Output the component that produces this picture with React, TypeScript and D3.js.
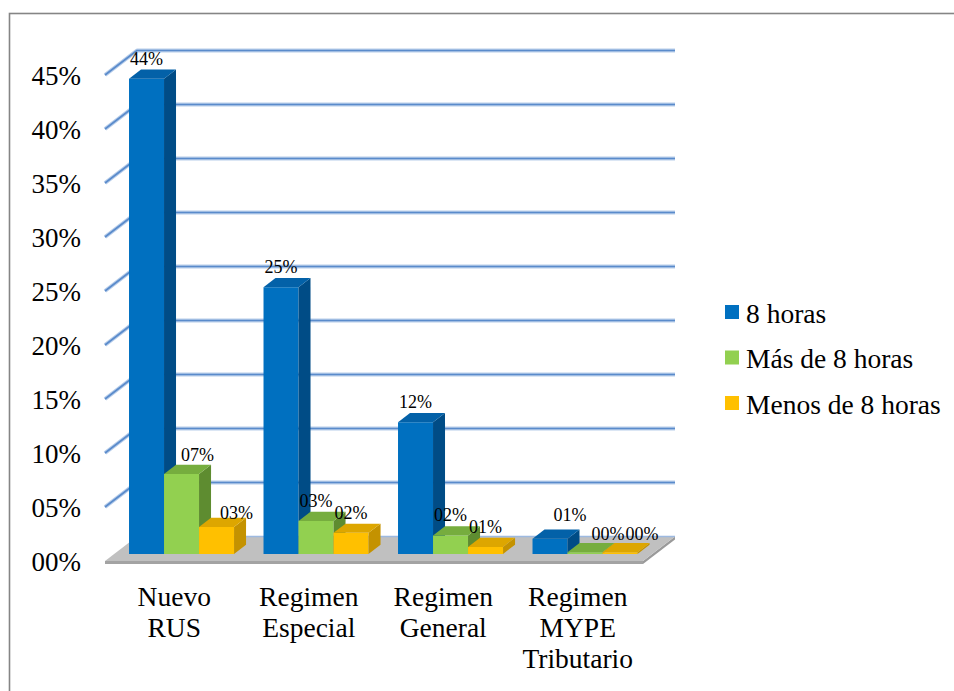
import React from "react";
import * as d3 from "d3";

const categories = ["Nuevo\nRUS", "Regimen\nEspecial", "Regimen\nGeneral", "Regimen\nMYPE\nTributario"];
const seriesNames = ["8 horas", "Más de 8 horas", "Menos de 8 horas"];
const values8 = [44, 24.7, 12.2, 1.4];
const valuesMas = [7.4, 3.05, 1.7, 0.15];
const valuesMenos = [2.5, 1.95, 0.65, 0.15];
const yTicks = [0, 5, 10, 15, 20, 25, 30, 35, 40, 45];

const seriesValues = [values8, valuesMas, valuesMenos];

// styling
const FONT = '"Liberation Serif", "Times New Roman", Times, serif';
const FRONT = ["#0070C0", "#92D050", "#FFC000"];
const SIDE = ["#004C86", "#5E8C30", "#C49200"];
const TOP = ["#0361A8", "#76AD3E", "#DDA600"];
const DX = 32;
const DY = 24.5;
const ZF = 0.29;
const ZB = 0.665;
// Excel's label placement nudges (layout only), index = cat*3 + series
const LABEL_NUDGE: Record<number, [number, number]> = {
  1: [16, 1],
  2: [20, 6],
  9: [20, -4],
  10: [23, 2],
  11: [22, 2],
};

const W = 954;
const H = 691;

export default function App() {
  const x0 = d3.scaleBand<string>().domain(categories).range([105, 643]).paddingInner(0).paddingOuter(0);
  const x1 = d3.scaleBand<string>().domain(seriesNames).range([0, x0.bandwidth()]).paddingInner(0).paddingOuter(0.421);
  const y = d3.scaleLinear().domain([0, 45]).range([561, 75]);
  const P = (x: number, v: number, z: number): [number, number] => [x + z * DX, y(v) - z * DY];
  const pts = (arr: [number, number][]) => arr.map((p) => p.join(",")).join(" ");
  const fmt = (v: number) => d3.format("02d")(Math.round(v)) + "%";
  const ts = { fontFamily: FONT };

  const xL = x0.range()[0];
  const xR = x0.range()[1];

  const grid = yTicks.filter((t) => t > 0);

  const floorTop = pts([P(xL, 0, 0), P(xR, 0, 0), P(xR, 0, 1), P(xL, 0, 1)]);
  const [fl0x, fl0y] = P(xL, 0, 0);
  const [fr0x, fr0y] = P(xR, 0, 0);
  const [fr1x, fr1y] = P(xR, 0, 1);
  const slab = 3;

  const bars: React.ReactNode[] = [];
  const labels: React.ReactNode[] = [];
  categories.forEach((cat, i) => {
    seriesNames.forEach((s, j) => {
      const v = seriesValues[j][i];
      const xa = (x0(cat) as number) + (x1(s) as number);
      const xb = xa + x1.bandwidth();
      const front = pts([P(xa, 0, ZF), P(xb, 0, ZF), P(xb, v, ZF), P(xa, v, ZF)]);
      const side = pts([P(xb, 0, ZF), P(xb, 0, ZB), P(xb, v, ZB), P(xb, v, ZF)]);
      const top = pts([P(xa, v, ZF), P(xb, v, ZF), P(xb, v, ZB), P(xa, v, ZB)]);
      bars.push(
        <g key={`b${i}-${j}`}>
          <polygon points={front} fill={FRONT[j]} />
          <polygon points={side} fill={SIDE[j]} />
          <polygon points={top} fill={TOP[j]} />
        </g>
      );
      const nudge = LABEL_NUDGE[i * 3 + j] || [0, 0];
      const cx = P((xa + xb) / 2, v, ZF)[0] + nudge[0];
      const by = P(xa, v, ZB)[1] - 5 + nudge[1];
      labels.push(
        <text key={`l${i}-${j}`} x={cx} y={by} textAnchor="middle" fontSize={18} fill="#000" style={ts}>
          {fmt(v)}
        </text>
      );
    });
  });

  return (
    <svg width={W} height={H} style={{ position: "absolute", left: 0, top: 0, background: "#fff", fontFamily: FONT }}>
      <rect x={9.5} y={13.5} width={W + 10} height={H + 10} fill="#fff" stroke="#858585" strokeWidth={1.6} />

      {/* gridlines */}
      {grid.map((t) => {
        const [ax, ay] = P(xL, t, 0);
        const [bx, by] = P(xL, t, 1);
        const [cx, cy] = P(xR, t, 1);
        const d = `M${ax},${ay}L${bx},${by}L${cx},${cy}`;
        return (
          <g key={`g${t}`}>
            <path d={d} fill="none" stroke="#B7CDEA" strokeWidth={4} strokeLinejoin="round" />
            <path d={d} fill="none" stroke="#5A8BCB" strokeWidth={1.6} strokeLinejoin="round" />
          </g>
        );
      })}

      {/* floor */}
      <polygon points={pts([[fl0x, fl0y], [fr0x, fr0y], [fr0x, fr0y + slab], [fl0x, fl0y + slab]])} fill="#A3A3A3" />
      <polygon points={pts([[fr0x, fr0y], [fr1x, fr1y], [fr1x, fr1y + slab], [fr0x, fr0y + slab]])} fill="#9A9A9A" />
      <polygon points={floorTop} fill="#C0C0C0" />
      <path d={`M${P(xL, 0, 1).join(",")}L${P(xR, 0, 1).join(",")}`} stroke="#9DB9E0" strokeWidth={1.5} />

      {bars}
      {labels}

      {/* y axis labels */}
      {yTicks.map((t) => (
        <text key={`y${t}`} x={81} y={y(t) + 1} textAnchor="end" dominantBaseline="central" fontSize={27} fill="#000" style={ts}>
          {fmt(t)}
        </text>
      ))}

      {/* category labels */}
      {categories.map((c) => {
        const cx = (x0(c) as number) + x0.bandwidth() / 2 + 2;
        return (
          <text key={`c${c}`} textAnchor="middle" fontSize={27.5} fill="#000" style={ts}>
            {c.split("\n").map((line, k) => (
              <tspan key={k} x={cx} y={606 + k * 31}>
                {line}
              </tspan>
            ))}
          </text>
        );
      })}

      {/* legend */}
      {seriesNames.map((s, j) => {
        const cy = 312 + j * 45.5;
        return (
          <g key={`lg${s}`}>
            <rect x={725} y={cy - 7} width={14} height={14} fill={FRONT[j]} />
            <text x={746} y={cy + 1} dominantBaseline="central" fontSize={27.5} fill="#000" style={ts}>
              {s}
            </text>
          </g>
        );
      })}
    </svg>
  );
}
